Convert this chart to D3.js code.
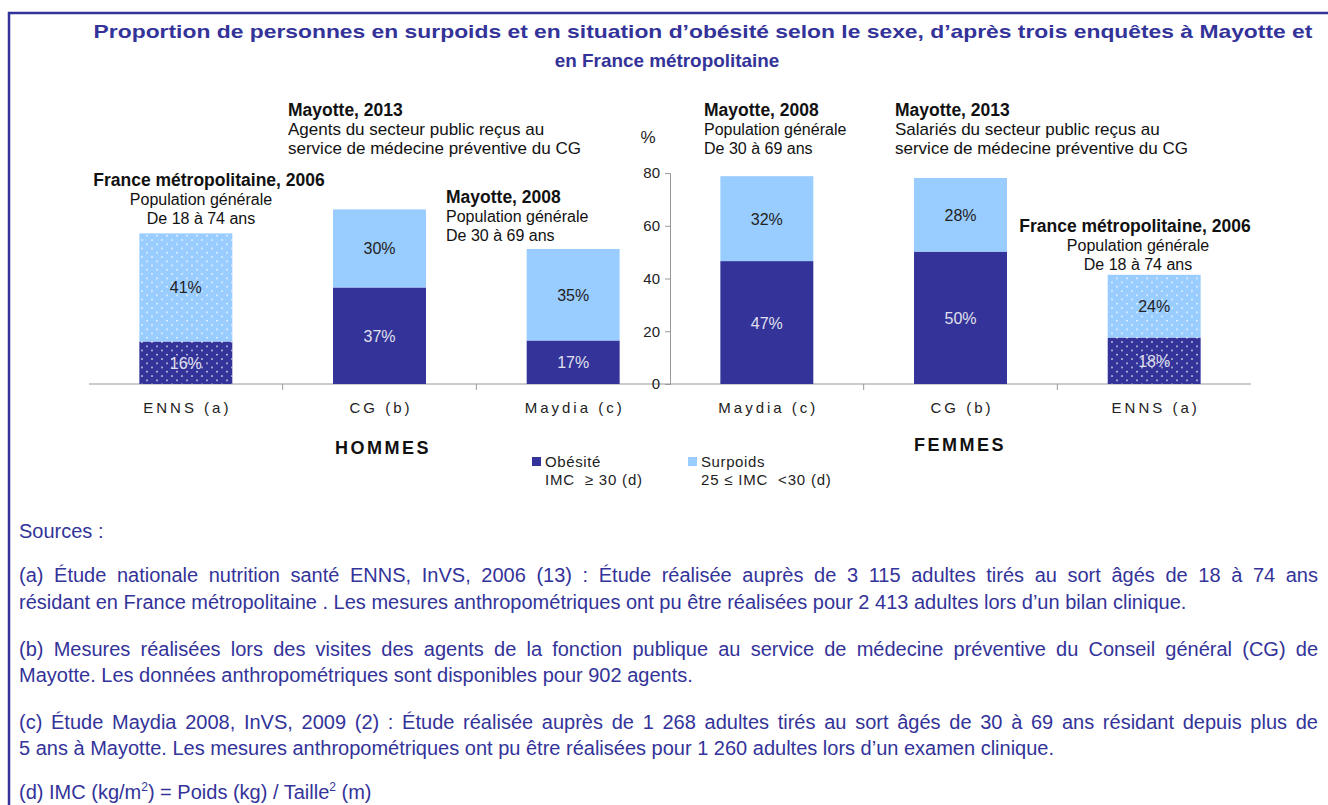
<!DOCTYPE html>
<html>
<head>
<meta charset="utf-8">
<script src="https://cdn.jsdelivr.net/npm/d3@7"></script>
<style>
  body { margin: 0; background: #fff; }
  #wrap { position: relative; width: 1328px; height: 805px; overflow: hidden; }
  svg { position: absolute; left: 0; top: 0; }
  .src {
    position: absolute; left: 19px; width: 1299px; white-space: nowrap;
    font-family: "Liberation Sans", Arial, sans-serif; font-size: 20px;
    color: #333399; line-height: 26px;
  }
  .src.just { text-align: justify; text-align-last: justify; white-space: normal; }
  .src sup { font-size: 12px; line-height: 0; }
</style>
</head>
<body>
<div id="wrap">
<svg></svg>
</div>
<script>
// data
const categories = ["ENNS (a)", "CG (b)", "Maydia (c)", "Maydia (c)", "CG (b)", "ENNS (a)"];
const sexes = ["H", "H", "H", "F", "F", "F"];
const obesite = [16.1, 36.6, 16.5, 46.6, 50.2, 17.6];
const surpoids = [41.0, 29.6, 34.7, 32.2, 27.9, 23.8];
const patterned = [true, false, false, false, false, true];
const yTicks = [0, 20, 40, 60, 80];

const notes = [
  {title: "France métropolitaine, 2006", lines: ["Population générale", "De 18 à 74 ans"]},
  {title: "Mayotte, 2013", lines: ["Agents du secteur public reçus au", "service de médecine préventive du CG"]},
  {title: "Mayotte, 2008", lines: ["Population générale", "De 30 à 69 ans"]},
  {title: "Mayotte, 2008", lines: ["Population générale", "De 30 à 69 ans"]},
  {title: "Mayotte, 2013", lines: ["Salariés du secteur public reçus au", "service de médecine préventive du CG"]},
  {title: "France métropolitaine, 2006", lines: ["Population générale", "De 18 à 74 ans"]}
];

const sourceLines = [
  {y: 531, just: false, html: "Sources :"},
  {y: 575, just: true, html: "(a) Étude nationale nutrition santé ENNS, InVS, 2006 (13) : Étude réalisée auprès de 3 115 adultes tirés au sort âgés de 18 à 74 ans"},
  {y: 602, just: false, html: "résidant en France métropolitaine . Les mesures anthropométriques ont pu être réalisées pour 2 413 adultes lors d’un bilan clinique."},
  {y: 649, just: true, html: "(b) Mesures réalisées lors des visites des agents de la fonction publique au service de médecine préventive du Conseil général (CG) de"},
  {y: 675, just: false, html: "Mayotte. Les données anthropométriques sont disponibles pour 902 agents."},
  {y: 722, just: true, html: "(c) Étude Maydia 2008, InVS, 2009 (2) : Étude réalisée auprès de 1 268 adultes tirés au sort âgés de 30 à 69 ans résidant depuis plus de"},
  {y: 748, just: false, html: "5 ans à Mayotte. Les mesures anthropométriques ont pu être réalisées pour 1 260 adultes lors d’un examen clinique."},
  {y: 792, just: false, html: "(d) IMC (kg/m<sup>2</sup>) = Poids (kg) / Taille<sup>2</sup> (m)"}
];

const data = categories.map((c, i) => ({
  i: i, cat: c, sexe: sexes[i], obe: obesite[i], sur: surpoids[i], pat: patterned[i]
}));

const svgWidth = 1328;
const svgHeight = 805;
const font = "'Liberation Sans', Arial, sans-serif";
const dark = "#333399";
const light = "#99ccff";

const svg = d3.select("svg")
    .attr("width", svgWidth)
    .attr("height", svgHeight)
    .style("font-family", font);

// dotted pattern
const defs = svg.append("defs");
const pat = defs.append("pattern")
    .attr("id", "dots")
    .attr("patternUnits", "userSpaceOnUse")
    .attr("width", 10).attr("height", 8.5);
pat.append("circle").attr("cx", 2).attr("cy", 2).attr("r", 0.8).attr("fill", "#fff");
pat.append("circle").attr("cx", 7).attr("cy", 6.25).attr("r", 0.8).attr("fill", "#fff");

// frame
svg.append("path")
    .attr("d", "M9,805 V13 H1328")
    .attr("fill", "none")
    .attr("stroke", dark)
    .attr("stroke-width", 2.5);

// title
svg.append("text")
    .attr("transform", "translate(703,38) scale(1.27,1)")
    .attr("text-anchor", "middle")
    .attr("fill", dark)
    .style("font-weight", "bold")
    .style("font-size", "18px")
    .text("Proportion de personnes en surpoids et en situation d’obésité selon le sexe, d’après trois enquêtes à Mayotte et");
svg.append("text")
    .attr("transform", "translate(667,67) scale(1.05,1)")
    .attr("text-anchor", "middle")
    .attr("fill", dark)
    .style("font-weight", "bold")
    .style("font-size", "18px")
    .text("en France métropolitaine");

// scales
const x = d3.scaleBand()
    .domain(d3.range(categories.length))
    .range([89, 1251])
    .paddingInner(0.52)
    .paddingOuter(0.26);

const y = d3.scaleLinear().domain([0, 80]).range([384, 173]);

const axisX = 670;

// x axis line + ticks at band boundaries
const g = svg.append("g");
g.append("line")
    .attr("x1", 89).attr("x2", 1251)
    .attr("y1", y(0)).attr("y2", y(0))
    .attr("stroke", "#999");
const bounds = d3.range(1, categories.length).filter(k => k !== 3)
    .map(k => x(k) - x.step() * x.paddingInner() / 2);
g.selectAll(".xt").data(bounds).enter().append("line")
    .attr("x1", d => d).attr("x2", d => d)
    .attr("y1", y(0)).attr("y2", y(0) + 6)
    .attr("stroke", "#999");

// y axis
const yAxis = svg.append("g")
    .attr("transform", "translate(" + axisX + ",0)")
    .call(d3.axisLeft(y).tickValues(yTicks).tickSize(5).tickPadding(5));
yAxis.select(".domain").attr("stroke", "#999");
yAxis.selectAll(".tick line").attr("stroke", "#999");
yAxis.selectAll(".tick text")
    .attr("fill", "#222")
    .style("font-family", font)
    .style("font-size", "15px");

svg.append("text")
    .attr("x", 648).attr("y", 143)
    .attr("text-anchor", "middle")
    .attr("fill", "#222")
    .style("font-size", "17px")
    .text("%");

// bars
const bar = svg.selectAll(".bar")
    .data(data)
    .enter()
    .append("g")
    .attr("class", "bar");

bar.append("rect")
    .attr("x", d => x(d.i))
    .attr("width", x.bandwidth())
    .attr("y", d => y(d.obe))
    .attr("height", d => y(0) - y(d.obe))
    .attr("fill", dark);

bar.append("rect")
    .attr("x", d => x(d.i))
    .attr("width", x.bandwidth())
    .attr("y", d => y(d.obe + d.sur))
    .attr("height", d => y(d.obe) - y(d.obe + d.sur))
    .attr("fill", light);

bar.filter(d => d.pat).append("rect")
    .attr("x", d => x(d.i))
    .attr("width", x.bandwidth())
    .attr("y", d => y(d.obe + d.sur))
    .attr("height", d => y(0) - y(d.obe + d.sur))
    .attr("fill", "url(#dots)");

bar.append("text")
    .attr("x", d => x(d.i) + x.bandwidth() / 2)
    .attr("y", d => y(d.obe / 2) + 6)
    .attr("text-anchor", "middle")
    .attr("fill", "#e0e0ee")
    .style("font-size", "16px")
    .text(d => Math.round(d.obe) + "%");

bar.append("text")
    .attr("x", d => x(d.i) + x.bandwidth() / 2)
    .attr("y", d => y(d.obe + d.sur / 2) + 6)
    .attr("text-anchor", "middle")
    .attr("fill", "#222")
    .style("font-size", "16px")
    .text(d => Math.round(d.sur) + "%");

// category labels
bar.append("text")
    .attr("x", d => x(d.i) + x.bandwidth() / 2 + 1.5)
    .attr("y", 413)
    .attr("text-anchor", "middle")
    .attr("fill", "#222")
    .style("font-size", "15px")
    .style("letter-spacing", "3px")
    .text(d => d.cat);

// annotations above bars
const notePos = [
  {x: 209, y: 186, anchor: "middle", sub: 201, size: 16},
  {x: 288, y: 116, anchor: "start", size: 17},
  {x: 446, y: 203, anchor: "start", size: 16},
  {x: 704, y: 116, anchor: "start", size: 16},
  {x: 895, y: 116, anchor: "start", size: 17},
  {x: 1135, y: 232, anchor: "middle", sub: 1138, size: 16}
];
notes.forEach((n, i) => {
  const p = notePos[i];
  const t = svg.append("text")
      .attr("fill", "#111")
      .style("font-size", p.size + "px")
      .attr("text-anchor", p.anchor);
  t.append("tspan").attr("x", p.x).attr("y", p.y)
      .style("font-weight", "bold").style("font-size", "17.5px").text(n.title);
  n.lines.forEach((l, k) => {
    t.append("tspan").attr("x", p.sub || p.x).attr("y", p.y + 19 * (k + 1)).text(l);
  });
});

// group labels
svg.append("text").attr("x", 383).attr("y", 454)
    .attr("text-anchor", "middle").attr("fill", "#111")
    .style("font-weight", "bold").style("font-size", "18px")
    .style("letter-spacing", "2.5px").text("HOMMES");
svg.append("text").attr("x", 960).attr("y", 451)
    .attr("text-anchor", "middle").attr("fill", "#111")
    .style("font-weight", "bold").style("font-size", "18px")
    .style("letter-spacing", "2.5px").text("FEMMES");

// legend
const legend = [
  {color: dark, l1: "Obésité", l2: "IMC  ≥ 30 (d)", x: 532},
  {color: light, l1: "Surpoids", l2: "25 ≤ IMC  <30 (d)", x: 688}
];
const lg = svg.selectAll(".lg").data(legend).enter().append("g")
    .attr("transform", d => "translate(" + d.x + ",0)");
lg.append("rect").attr("x", 0).attr("y", 457).attr("width", 9).attr("height", 9)
    .attr("fill", d => d.color);
lg.append("text").attr("x", 13).attr("y", 467).attr("fill", "#222")
    .style("font-size", "15px").style("letter-spacing", "0.6px").text(d => d.l1);
lg.append("text").attr("x", 13).attr("y", 485).attr("fill", "#222")
    .attr("xml:space", "preserve").style("white-space", "pre")
    .style("font-size", "15px").style("letter-spacing", "0.8px").text(d => d.l2);

// sources
d3.select("#wrap").selectAll(".src")
    .data(sourceLines)
    .enter()
    .append("div")
    .attr("class", d => d.just ? "src just" : "src")
    .style("top", d => (d.y - 13) + "px")
    .html(d => d.html);
</script>
</body>
</html>
